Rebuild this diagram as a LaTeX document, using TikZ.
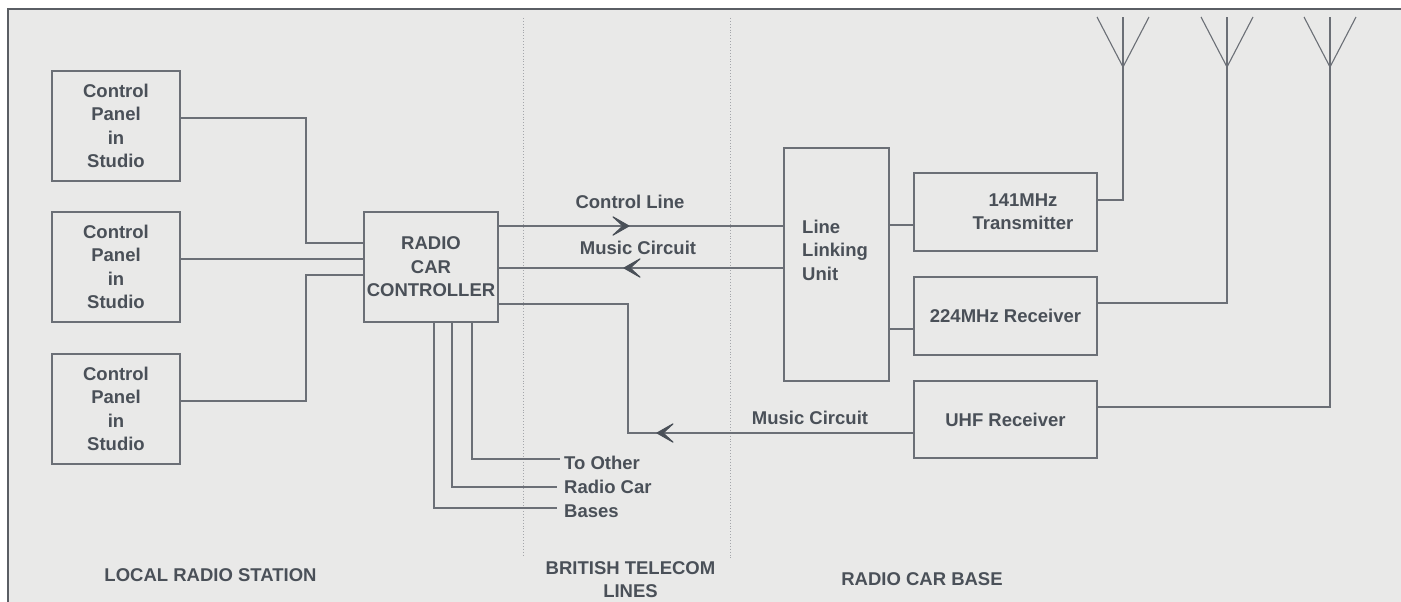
\documentclass[tikz,border=0pt]{standalone}
\usepackage{fontspec}
\setmainfont{Liberation Sans}
\usetikzlibrary{arrows.meta,decorations.markings,calc}
\definecolor{bgc}{HTML}{E9E9E8}
\definecolor{linec}{HTML}{6B6F76}
\definecolor{txtc}{HTML}{4A5058}
\definecolor{bordc}{HTML}{5A5E64}
\definecolor{dotc}{HTML}{A4A6AA}
\begin{document}
\begin{tikzpicture}[x=1pt,y=-1pt,
  lab/.style={text=txtc,font=\fontsize{18.5}{23.5}\selectfont\bfseries,inner sep=0pt},
  box/.style={draw=linec,line width=1.1pt,inner sep=0pt,lab,align=center},
  wire/.style={draw=linec,line width=1.1pt},
  arrowat/.style={postaction={decorate},decoration={markings,mark=at position #1 with {\arrow[txtc]{Stealth[length=21pt,width=24pt,inset=13pt,round]}}}},
  divider/.style={draw=dotc,line width=0.9pt,dotted},
]
\useasboundingbox (0,0) rectangle (1401,602);
\fill[white] (0,0) rectangle (1401,602);
\fill[bgc] (8,9) rectangle (1401,602);
\draw[bordc,line width=1.4pt] (8,602) -- (8,9) -- (1401,9);

% dividers
\draw[divider] (523,18) -- (523,557);
\draw[divider] (730,18) -- (730,560);

% boxes
\node[box,minimum width=128pt,minimum height=110pt] (b1) at (116,126) {Control\\Panel\\in\\Studio};
\node[box,minimum width=128pt,minimum height=110pt] (b2) at (116,267) {Control\\Panel\\in\\Studio};
\node[box,minimum width=128pt,minimum height=110pt] (b3) at (116,409) {Control\\Panel\\in\\Studio};
\node[box,minimum width=134pt,minimum height=110pt] (ctrl) at (431,267) {RADIO\\CAR\\CONTROLLER};
\node[box,minimum width=105pt,minimum height=233pt] (llu) at (836.5,264.5) {};
\node[lab,anchor=west,align=left] (llut) at (802,250) {Line\\Linking\\Unit};
\node[box,minimum width=183pt,minimum height=78pt] (tx) at (1005.5,212) {};
\node[lab,align=center] (txt) at (1023,211.5) {141MHz\\Transmitter};
\node[box,minimum width=183pt,minimum height=78pt] (rx) at (1005.5,316) {224MHz Receiver};
\node[box,minimum width=183pt,minimum height=77pt] (uhf) at (1005.5,419.5) {UHF Receiver};

% antenna junctions
\coordinate (a1) at (1123,67);
\coordinate (a2) at (1227,67);
\coordinate (a3) at (1330,67);

% connectors left
\draw[wire] ([yshift=8pt]b1.east) -| (306,243) -- ([yshift=24pt]ctrl.west);
\draw[wire] ([yshift=8pt]b2.east) -- ([yshift=8pt]ctrl.west);
\draw[wire] ([yshift=8pt]b3.east) -| (306,275) -- ([yshift=-8pt]ctrl.west);

% controller <-> line linking unit
\draw[wire,arrowat=131pt] ([yshift=41pt]ctrl.east) -- ([yshift=38.5pt]llu.west);
\draw[wire,arrowat=160pt] ([yshift=-3.5pt]llu.west) -- ([yshift=-1pt]ctrl.east);
\draw[wire,arrowat=257pt] ([yshift=-13.5pt]uhf.west) -| (628,304) -- ([yshift=-37pt]ctrl.east);

% labels on lines
\node[lab] (cl) at (630,202) {Control Line};
\node[lab] (mc1) at (638,248) {Music Circuit};
\node[lab] (mc2) at (810,418) {Music Circuit};

% LLU to radio units
\draw[wire] ([yshift=39.5pt]llu.east) -- ([yshift=-13pt]tx.west);
\draw[wire] ([yshift=-64.5pt]llu.east) -- ([yshift=-13pt]rx.west);

% radio units to antennas
\draw[wire] ([yshift=12pt]tx.east) -| (a1);
\draw[wire] ([yshift=13pt]rx.east) -| (a2);
\draw[wire] ([yshift=12.5pt]uhf.east) -| (a3);
\foreach \a in {a1,a2,a3}{
  \draw[wire] (\a) -- ++(0,-50);
  \draw[wire] ($(\a)+(-26,-50)$) -- (\a) -- ($(\a)+(26,-50)$);
}

% other bases
\node[lab,anchor=west] (t1) at (564,463) {To Other};
\node[lab,anchor=west] (t2) at (564,487) {Radio Car};
\node[lab,anchor=west] (t3) at (564,511) {Bases};
\draw[wire] ([xshift=41pt]ctrl.south) |- ([xshift=-4pt,yshift=4pt]t1.west);
\draw[wire] ([xshift=21pt]ctrl.south) |- ([xshift=-7pt]t2.west);
\draw[wire] ([xshift=3pt]ctrl.south) |- ([xshift=-7pt,yshift=3pt]t3.west);

% region labels
\node[lab] (lrs) at (210.5,575) {LOCAL RADIO STATION};
\node[lab,align=center] (btl) at (630.5,579.5) {BRITISH TELECOM\\LINES};
\node[lab] (rcb) at (922,579) {RADIO CAR BASE};
\end{tikzpicture}
\end{document}
